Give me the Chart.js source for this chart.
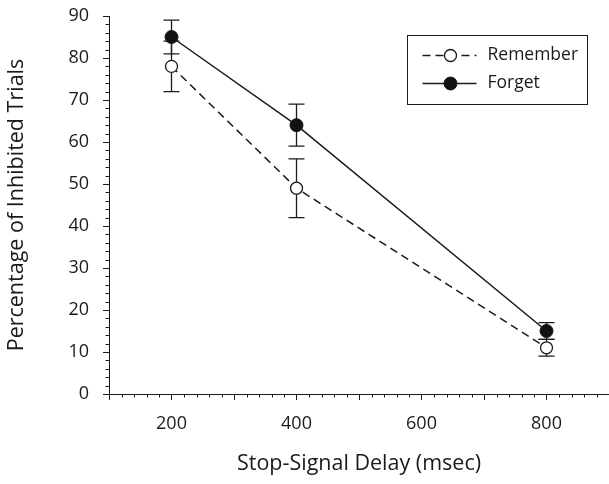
<!DOCTYPE html>
<html><head><meta charset="utf-8">
<script src="https://cdn.jsdelivr.net/npm/chart.js@4"></script>
<style>html,body{margin:0;padding:0;background:#fff}</style>
</head><body>
<canvas id="c" width="609" height="484"></canvas>
<script>
const delays = [200, 400, 800];
const rememberMeans = [78, 49, 11];
const rememberErrors = [6, 7, 2];
const forgetMeans = [85, 64, 15];
const forgetErrors = [4, 5, 2];
const xTickLabels = [200, 400, 600, 800];
const seriesNames = ['Remember', 'Forget'];

const FONT = '"Open Sans", "Noto Sans", sans-serif';
const INK = '#1a1a1a';

function pts(means) { return delays.map((d, i) => ({x: d, y: means[i]})); }

const errorBars = {
  id: 'errorBars',
  beforeDatasetsDraw(chart) {
    const {ctx, scales: {x, y}} = chart;
    const errs = [rememberErrors, forgetErrors];
    ctx.save();
    ctx.strokeStyle = INK;
    ctx.lineWidth = 1.3;
    chart.data.datasets.forEach((ds, di) => {
      ds.data.forEach((p, i) => {
        const px = x.getPixelForValue(p.x);
        const top = y.getPixelForValue(p.y + errs[di][i]);
        const bot = y.getPixelForValue(p.y - errs[di][i]);
        ctx.beginPath();
        ctx.moveTo(px, top); ctx.lineTo(px, bot);
        ctx.moveTo(px - 8, top); ctx.lineTo(px + 8, top);
        ctx.moveTo(px - 8, bot); ctx.lineTo(px + 8, bot);
        ctx.stroke();
      });
    });
    ctx.restore();
  }
};

const minorTicks = {
  id: 'minorTicks',
  afterDraw(chart) {
    const {ctx, scales: {x, y}} = chart;
    ctx.save();
    ctx.strokeStyle = INK;
    ctx.lineWidth = 1;
    ctx.beginPath();
    for (let v = y.min; v <= y.max; v += 2) {
      if (v % 10 === 0) continue;
      const py = Math.round(y.getPixelForValue(v)) + 0.5;
      ctx.moveTo(x.left - 3.5, py); ctx.lineTo(x.left, py);
    }
    for (let v = x.min; v <= x.max; v += 20) {
      if (v % 100 === 0) continue;
      const px = Math.round(x.getPixelForValue(v)) + 0.5;
      ctx.moveTo(px, y.bottom); ctx.lineTo(px, y.bottom + 3.5);
    }
    ctx.stroke();
    ctx.restore();
  }
};

const boxLegend = {
  id: 'boxLegend',
  afterDraw(chart) {
    const {ctx, chartArea} = chart;
    const bx = Math.round(chartArea.right - 202) + 0.5;
    const by = Math.round(chartArea.top + 19) + 0.5;
    const bw = 180, bh = 69;
    ctx.save();
    ctx.strokeStyle = INK;
    ctx.lineWidth = 1;
    ctx.strokeRect(bx, by, bw, bh);
    chart.data.datasets.forEach((ds, i) => {
      const cy = by + 20 + i * 28;
      ctx.beginPath();
      ctx.strokeStyle = ds.borderColor;
      ctx.lineWidth = ds.borderWidth;
      ctx.setLineDash(ds.borderDash || []);
      ctx.moveTo(bx + 15, cy); ctx.lineTo(bx + 69, cy);
      ctx.stroke();
      ctx.setLineDash([]);
      ctx.beginPath();
      ctx.arc(bx + 43, cy, ds.pointRadius, 0, Math.PI * 2);
      ctx.fillStyle = ds.pointBackgroundColor;
      ctx.fill();
      ctx.lineWidth = ds.pointBorderWidth;
      ctx.strokeStyle = ds.pointBorderColor;
      ctx.stroke();
      ctx.fillStyle = INK;
      ctx.font = '17.5px ' + FONT;
      ctx.textBaseline = 'middle';
      ctx.fillText(ds.label, bx + 80, cy);
    });
    ctx.restore();
  }
};

new Chart(document.getElementById('c'), {
  type: 'line',
  data: {
    datasets: [
      {
        label: seriesNames[0],
        data: pts(rememberMeans),
        borderColor: INK, borderWidth: 1.5, borderDash: [8, 5],
        pointRadius: 6, pointBackgroundColor: '#ffffff',
        pointBorderColor: INK, pointBorderWidth: 1.3,
        fill: false, tension: 0
      },
      {
        label: seriesNames[1],
        data: pts(forgetMeans),
        borderColor: INK, borderWidth: 1.5,
        pointRadius: 6.5, pointBackgroundColor: '#111111',
        pointBorderColor: INK, pointBorderWidth: 1,
        fill: false, tension: 0
      }
    ]
  },
  options: {
    responsive: false,
    animation: false,
    layout: {autoPadding: false, padding: {top: 16, right: 0, left: 0, bottom: 0}},
    plugins: {legend: {display: false}, tooltip: {enabled: false}},
    scales: {
      x: {
        type: 'linear', min: 100, max: 900,
        afterFit(s) { s.height = 90; s.paddingLeft = 0; s.paddingRight = 0; },
        border: {display: true, color: INK, width: 1},
        grid: {drawOnChartArea: false, tickLength: 6, tickColor: INK},
        ticks: {
          stepSize: 100, autoSkip: false, maxRotation: 0, padding: 13,
          color: INK, font: {family: FONT, size: 18},
          callback: v => xTickLabels.includes(v) ? String(v) : ''
        },
        title: {display: true, text: 'Stop-Signal Delay (msec)', color: INK,
          font: {family: FONT, size: 21.5}, padding: {top: 0, bottom: 7}}
      },
      y: {
        min: 0, max: 90,
        afterFit(s) { s.width = 109; s.paddingTop = 0; s.paddingBottom = 0; },
        border: {display: true, color: INK, width: 1},
        grid: {drawOnChartArea: false, tickLength: 6, tickColor: INK},
        ticks: {stepSize: 10, padding: 14, color: INK, font: {family: FONT, size: 18}},
        title: {display: true, text: 'Percentage of Inhibited Trials', color: INK,
          font: {family: FONT, size: 21.5}, padding: {top: 4, bottom: 0}}
      }
    }
  },
  plugins: [errorBars, minorTicks, boxLegend]
});
</script>
</body></html>
